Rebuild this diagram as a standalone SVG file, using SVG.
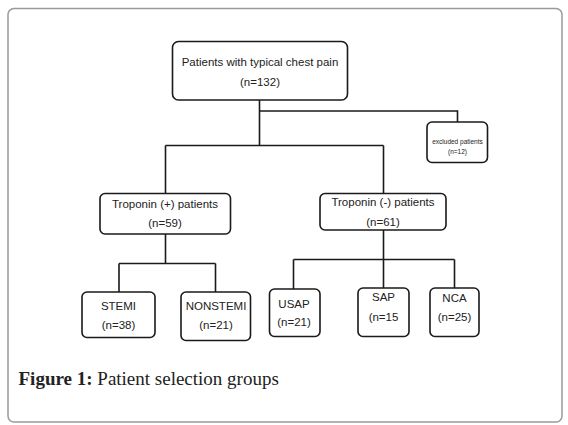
<svg xmlns="http://www.w3.org/2000/svg" width="568" height="425" viewBox="0 0 568 425">
<style>
.box{fill:#fff;stroke:#1a1a1a;stroke-width:1.6}
.lbl{font-family:"Liberation Sans",Arial,sans-serif;font-size:11.5px;fill:#222;text-anchor:middle}
.sm{font-size:6.5px}
.con{fill:none;stroke:#1a1a1a;stroke-width:1.6}
.cap{font-family:"Liberation Serif","Times New Roman",serif;font-size:19px;fill:#222}
</style>
<rect x="8" y="8.5" width="554" height="413.5" rx="6" fill="#fff" stroke="#9a9a9a" stroke-width="1.5"/>
<g id="connectors">
<path class="con" d="M259.5 100 V145.5 M259.5 111 H457.5 V122 M165.5 145.5 H383.5 M165.5 145.5 V193.5 M383.5 145.5 V193.5"/>
<path class="con" d="M165.5 234 V263.5 M119 263.5 H215.5 M119 263.5 V292 M215.5 263.5 V292"/>
<path class="con" d="M383.5 230 V259.5 M293.5 259.5 H454.5 M293.5 259.5 V289 M383.5 259.5 V288 M454.5 259.5 V288"/>
</g>
<g id="top">
<rect class="box" x="172.5" y="41.5" width="175" height="58.5" rx="6"/>
<text class="lbl" x="260" y="65.5">Patients with typical chest pain</text>
<text class="lbl" x="260" y="85.5">(n=132)</text>
</g>
<g id="excluded">
<rect class="box" x="427" y="122" width="60.5" height="40.5" rx="5"/>
<text class="lbl sm" x="457.5" y="143.5">excluded patients</text>
<text class="lbl sm" x="457.5" y="153.8">(n=12)</text>
</g>
<g id="tropPos">
<rect class="box" x="100" y="193.5" width="130.5" height="40.5" rx="5"/>
<text class="lbl" x="165" y="208">Troponin (+) patients</text>
<text class="lbl" x="165" y="227">(n=59)</text>
</g>
<g id="tropNeg">
<rect class="box" x="320" y="193.5" width="126" height="36.5" rx="5"/>
<text class="lbl" x="383" y="205.5">Troponin (-) patients</text>
<text class="lbl" x="383" y="225.5">(n=61)</text>
</g>
<g id="stemi">
<rect class="box" x="82" y="292" width="73" height="45.5" rx="5"/>
<text class="lbl" x="118.5" y="310">STEMI</text>
<text class="lbl" x="118.5" y="328.5">(n=38)</text>
</g>
<g id="nonstemi">
<rect class="box" x="181" y="292" width="69.5" height="48.5" rx="5"/>
<text class="lbl" x="216" y="310">NONSTEMI</text>
<text class="lbl" x="216" y="329">(n=21)</text>
</g>
<g id="usap">
<rect class="box" x="269.5" y="289" width="50.5" height="47.5" rx="5"/>
<text class="lbl" x="294" y="307.5">USAP</text>
<text class="lbl" x="294" y="326">(n=21)</text>
</g>
<g id="sap">
<rect class="box" x="358" y="288" width="51" height="48.5" rx="5"/>
<text class="lbl" x="383.5" y="301">SAP</text>
<text class="lbl" x="383.5" y="320.5">(n=15</text>
</g>
<g id="nca">
<rect class="box" x="430" y="288" width="49" height="48.5" rx="5"/>
<text class="lbl" x="454.5" y="301.5">NCA</text>
<text class="lbl" x="454.5" y="321">(n=25)</text>
</g>
<text class="cap" x="18.5" y="385"><tspan font-weight="bold">Figure 1:</tspan> Patient selection groups</text>
</svg>
